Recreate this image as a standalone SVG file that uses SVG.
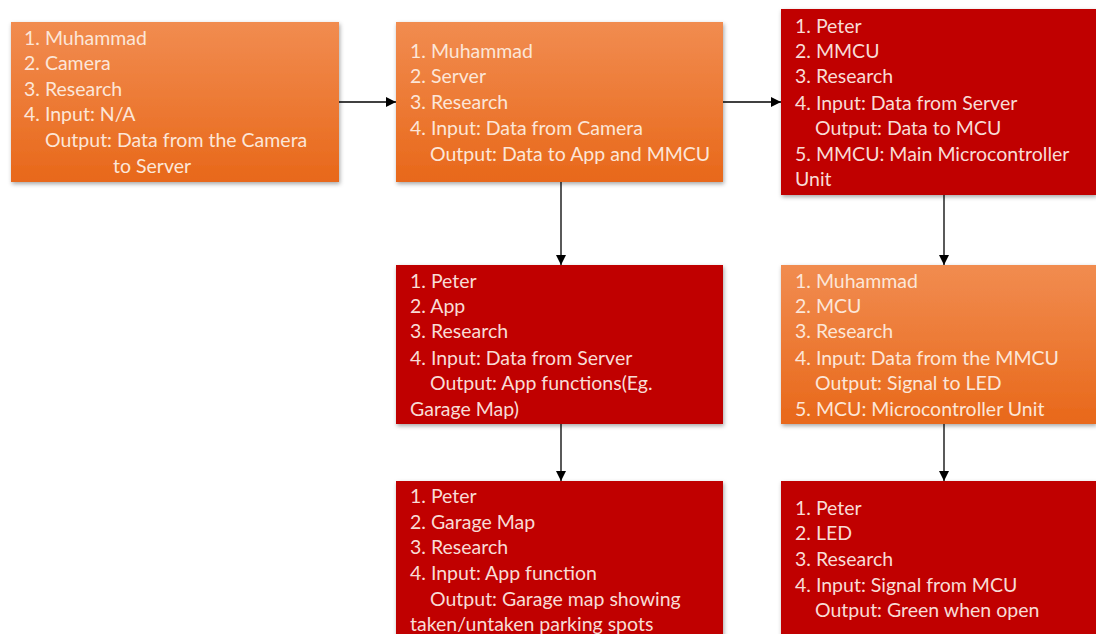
<svg xmlns="http://www.w3.org/2000/svg" width="1096" height="634" viewBox="0 0 1096 634">
<defs>
<linearGradient id="og" x1="0" y1="0" x2="0" y2="1">
<stop offset="0" stop-color="#F18C50"/>
<stop offset="1" stop-color="#E8681A"/>
</linearGradient>
<filter id="sh" x="-5%" y="-5%" width="112%" height="115%">
<feDropShadow dx="1" dy="2" stdDeviation="2" flood-color="#000" flood-opacity="0.35"/>
</filter>
<marker id="ah" viewBox="0 0 10 10" refX="10" refY="5" markerWidth="10" markerHeight="10" markerUnits="userSpaceOnUse" orient="auto">
<path d="M0,0 L10,5 L0,10 z" fill="#000"/>
</marker>
<style>
.org{fill:url(#og);filter:url(#sh)}
.red{fill:#C00000;filter:url(#sh)}
text{font-family:Lato,"Open Sans","Liberation Sans",sans-serif;font-size:19.5px}
.to{fill:#FCE6D8}
.tr{fill:#F8DCD6}
.c{stroke:#000;stroke-width:1.3;fill:none;marker-end:url(#ah)}
</style>
</defs>
<rect width="1096" height="634" fill="#fff"/>
<g id="connectors">
<line class="c" x1="339" y1="102" x2="396" y2="102"/>
<line class="c" x1="723" y1="102" x2="781" y2="102"/>
<line class="c" x1="561" y1="182" x2="561" y2="265"/>
<line class="c" x1="944" y1="195" x2="944" y2="265"/>
<line class="c" x1="561" y1="424" x2="561" y2="481"/>
<line class="c" x1="944" y1="424" x2="944" y2="481"/>
</g>
<g id="node-camera">
<rect class="org" x="11" y="22" width="328" height="160"/>
<text class="to" x="24" y="45">1. Muhammad</text>
<text class="to" x="24" y="70">2. Camera</text>
<text class="to" x="24" y="96">3. Research</text>
<text class="to" x="24" y="121">4. Input: N/A</text>
<text class="to" x="45" y="147">Output: Data from the Camera</text>
<text class="to" x="113" y="173">to Server</text>
</g>
<g id="node-server">
<rect class="org" x="396" y="22" width="327" height="160"/>
<text class="to" x="410" y="58">1. Muhammad</text>
<text class="to" x="410" y="83">2. Server</text>
<text class="to" x="410" y="109">3. Research</text>
<text class="to" x="410" y="135">4. Input: Data from Camera</text>
<text class="to" x="430" y="161">Output: Data to App and MMCU</text>
</g>
<g id="node-mmcu">
<rect class="red" x="781" y="9" width="315" height="186"/>
<text class="tr" x="795" y="33">1. Peter</text>
<text class="tr" x="795" y="58">2. MMCU</text>
<text class="tr" x="795" y="83">3. Research</text>
<text class="tr" x="795" y="110">4. Input: Data from Server</text>
<text class="tr" x="815" y="135">Output: Data to MCU</text>
<text class="tr" x="795" y="161">5. MMCU: Main Microcontroller</text>
<text class="tr" x="795" y="186">Unit</text>
</g>
<g id="node-app">
<rect class="red" x="396" y="265" width="327" height="159"/>
<text class="tr" x="410" y="288">1. Peter</text>
<text class="tr" x="410" y="313">2. App</text>
<text class="tr" x="410" y="338">3. Research</text>
<text class="tr" x="410" y="365">4. Input: Data from Server</text>
<text class="tr" x="430" y="390">Output: App functions(Eg.</text>
<text class="tr" x="410" y="416">Garage Map)</text>
</g>
<g id="node-mcu">
<rect class="org" x="781" y="265" width="315" height="159"/>
<text class="to" x="795" y="288">1. Muhammad</text>
<text class="to" x="795" y="313">2. MCU</text>
<text class="to" x="795" y="338">3. Research</text>
<text class="to" x="795" y="365">4. Input: Data from the MMCU</text>
<text class="to" x="815" y="390">Output: Signal to LED</text>
<text class="to" x="795" y="416">5. MCU: Microcontroller Unit</text>
</g>
<g id="node-garage-map">
<rect class="red" x="396" y="481" width="327" height="160"/>
<text class="tr" x="410" y="503">1. Peter</text>
<text class="tr" x="410" y="529">2. Garage Map</text>
<text class="tr" x="410" y="554">3. Research</text>
<text class="tr" x="410" y="580">4. Input: App function</text>
<text class="tr" x="430" y="606">Output: Garage map showing</text>
<text class="tr" x="410" y="631">taken/untaken parking spots</text>
</g>
<g id="node-led">
<rect class="red" x="781" y="481" width="315" height="160"/>
<text class="tr" x="795" y="515">1. Peter</text>
<text class="tr" x="795" y="540">2. LED</text>
<text class="tr" x="795" y="566">3. Research</text>
<text class="tr" x="795" y="592">4. Input: Signal from MCU</text>
<text class="tr" x="815" y="617">Output: Green when open</text>
</g>
</svg>
